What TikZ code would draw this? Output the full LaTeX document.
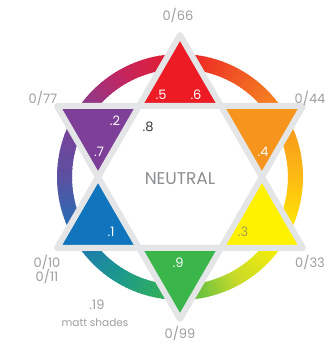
\documentclass[tikz,border=0pt]{standalone}
\usepackage{fontspec}
\setmainfont{Poppins}
\definecolor{grayline}{HTML}{E4E5E6}
\definecolor{labgray}{HTML}{9D9FA2}
\definecolor{neugray}{HTML}{8C8E90}
\definecolor{darklab}{HTML}{3A3A3A}
\definecolor{tred}{HTML}{ED1C24}
\definecolor{torange}{HTML}{F7941D}
\definecolor{tyellow}{HTML}{FFF200}
\definecolor{tgreen}{HTML}{39B54A}
\definecolor{tblue}{HTML}{1075BC}
\definecolor{tpurple}{HTML}{7E3F98}
\definecolor{ylab}{HTML}{A8A14A}
% ring key colours, clockwise from top, every 30 degrees
\definecolor{r0}{HTML}{ED1C24}
\definecolor{r1}{HTML}{F15A24}
\definecolor{r2}{HTML}{F7931E}
\definecolor{r3}{HTML}{FDBB13}
\definecolor{r4}{HTML}{FFF200}
\definecolor{r5}{HTML}{C9DA2A}
\definecolor{r6}{HTML}{39B54A}
\definecolor{r7}{HTML}{1C9A8C}
\definecolor{r8}{HTML}{1E72B8}
\definecolor{r9}{HTML}{5D4FA0}
\definecolor{r10}{HTML}{7F3F98}
\definecolor{r11}{HTML}{C4255E}
\tikzset{
  lab/.style={text=labgray, font=\fontsize{13}{15}\selectfont, inner sep=0pt},
  wlab/.style={text=white, font=\fontsize{13}{15}\selectfont, inner sep=0pt},
  starline/.style={draw=grayline, line width=6pt, line join=round},
}
\begin{document}
\begin{tikzpicture}[x=1pt,y=1pt]
\useasboundingbox (0,0) rectangle (329,348);
\fill[white] (0,0) rectangle (329,348);
\begin{scope}[shift={(180,171)}]
  % colour ring
  \foreach \i/\ca/\cb in {0/r0/r1,1/r1/r2,2/r2/r3,3/r3/r4,4/r4/r5,5/r5/r6,6/r6/r7,7/r7/r8,8/r8/r9,9/r9/r10,10/r10/r11,11/r11/r0}{
    \foreach \j in {0,...,14}{
      \pgfmathsetmacro\p{100*\j/15}
      \pgfmathsetmacro\a{90-(30*\i+2*\j)}
      \pgfmathsetmacro\b{\a-2.6}
      \draw[line width=15pt, draw={\cb!\p!\ca}] (\a:115.5pt) arc[start angle=\a, end angle=\b, radius=115.5pt];
    }
  }
  % coloured points
  \fill[tred]    (90:142)  coordinate (vt)  -- (60:82)  -- (120:82) -- cycle;
  \fill[torange] (30:142)  coordinate (vur) -- (0:82)   -- (60:82)  -- cycle;
  \fill[tyellow] (-30:142) coordinate (vlr) -- (-60:82) -- (0:82)   -- cycle;
  \fill[tgreen]  (270:142) coordinate (vb)  -- (240:82) -- (300:82) -- cycle;
  \fill[tblue]   (210:142) coordinate (vll) -- (180:82) -- (240:82) -- cycle;
  \fill[tpurple] (150:142) coordinate (vul) -- (120:82) -- (180:82) -- cycle;
  % star outline
  \draw[starline] (vt) -- (vll) -- (vlr) -- cycle;
  \draw[starline] (vb) -- (vur) -- (vul) -- cycle;
\end{scope}
% outer labels
\node[lab] (l66) at (178,333) {0/66};
\node[lab] (l77) at (43,250) {0/77};
\node[lab] (l44) at (310,250) {0/44};
\node[lab] (l10) at (47,86) {0/10};
\node[lab] (l11) at (47,72) {0/11};
\node[lab] (l33) at (310,86) {0/33};
\node[lab] (l99) at (180,15) {0/99};
\node[lab] (l19) at (97,43) {.19};
\node[lab, font=\fontsize{10.5}{12}\selectfont] (lms) at (95,25) {matt shades};
% inner labels
\node[wlab] (d5) at (161,253) {.5};
\node[wlab] (d6) at (196,253) {.6};
\node[wlab] (d2) at (115,227) {.2};
\node[wlab] (d7) at (99,196) {.7};
\node[lab, text=darklab] (d8) at (148,221) {.8};
\node[wlab] (d4) at (263,196) {.4};
\node[wlab] (d1) at (111,116) {.1};
\node[lab, text=ylab] (d3) at (243,116) {.3};
\node[wlab] (d9) at (178,85) {.9};
\node[lab, text=neugray, font=\fontsize{17}{19}\selectfont] (neu) at (180,169) {NEUTRAL};
\end{tikzpicture}
\end{document}
